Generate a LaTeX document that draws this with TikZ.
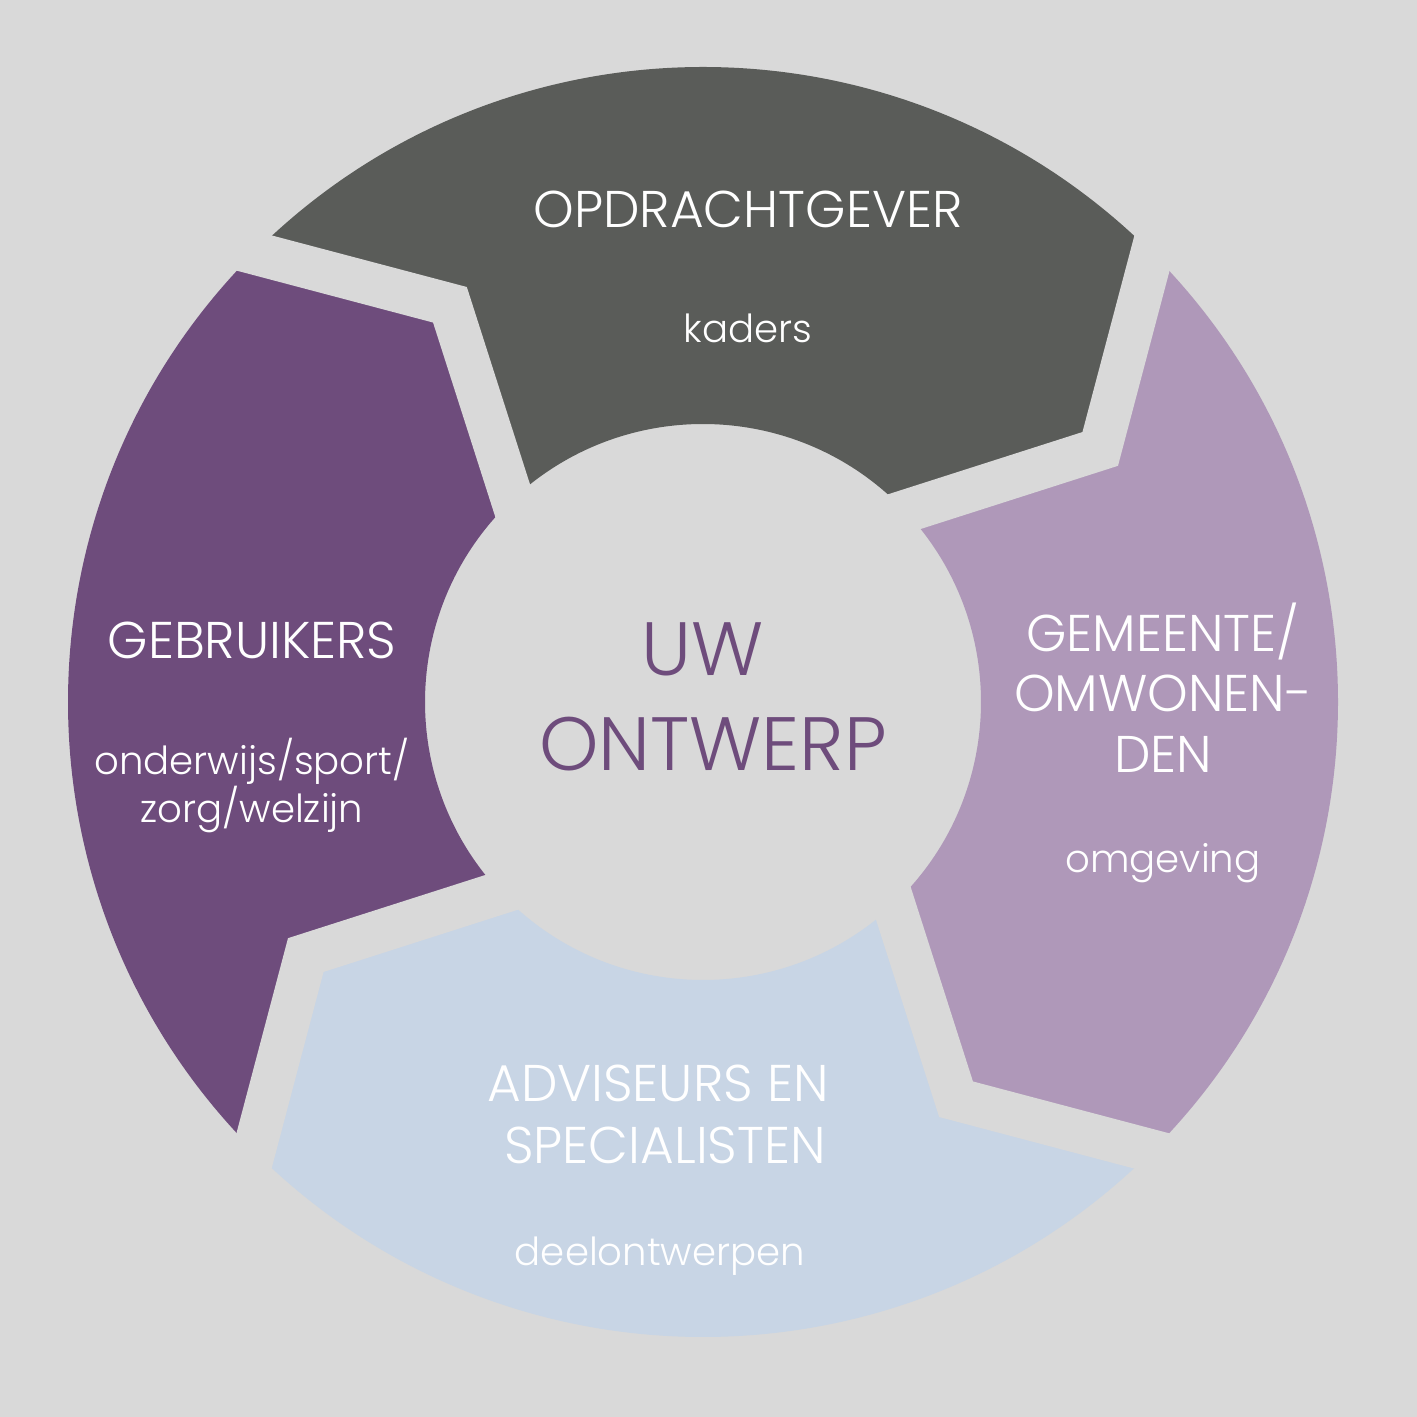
\documentclass[tikz,border=0pt]{standalone}
\usepackage{fontspec}
\setmainfont{Poppins}[UprightFont={* Light}]
\usetikzlibrary{calc}
\definecolor{bgc}{HTML}{D9D9D9}
\definecolor{topc}{HTML}{5A5C59}
\definecolor{rightc}{HTML}{AF98B9}
\definecolor{botc}{HTML}{C8D5E5}
\definecolor{leftc}{HTML}{6E4C7C}
\tikzset{
  gapline/.style={draw=bgc, line width=0.43cm, line join=miter, miter limit=10},
  lbl/.style={text=white, inner sep=0pt, anchor=base},
  head/.style={lbl, font=\fontsize{14.7}{17}\selectfont},
  sub/.style={lbl, font=\fontsize{11}{13}\selectfont},
  centre/.style={text=leftc, inner sep=0pt, anchor=base, font=\fontsize{21.5}{25}\selectfont},
}
\begin{document}
\begin{tikzpicture}
\fill[bgc] (0,0) rectangle (14.17,14.17);
\useasboundingbox (0,0) rectangle (14.17,14.17);
\coordinate (C) at (7.03,7.15);
\begin{scope}[shift={(C)}]
  \foreach \k/\col in {0/topc,1/rightc,2/botc,3/leftc}{
    \fill[\col, rotate=-90*\k] (135:6.35) arc[start angle=135, end angle=45, radius=6.35]
      -- (32.5:4.71) -- (43.3:2.78) arc[start angle=43.3, end angle=133.3, radius=2.78]
      -- (122.5:4.71) -- cycle;
  }
  \foreach \b in {45,-45,-135,135}{
    \coordinate (tip) at (\b-12.5:4.71);
    \coordinate (out) at (\b:6.35);
    \coordinate (inn) at (\b-1.7:2.78);
    \draw[gapline] ($(tip)!1.4!(out)$) -- (tip) -- ($(tip)!1.4!(inn)$);
  }
\end{scope}
% texts
\node[head] (t1) at (7.48,11.89) {OPDRACHTGEVER};
\node[sub] (t2) at (7.48,10.74) {kaders};
\node[head] (l1) at (2.52,7.58) {GEBRUIKERS};
\node[sub] (l2) at (2.52,6.42) {onderwijs/sport/};
\node[sub] (l3) at (2.52,5.94) {zorg/welzijn};
\node[centre] (c1) at (7.03,7.41) {UW};
\node[centre] (c2) at (7.13,6.46) {ONTWERP};
\node[head] (r1) at (11.63,7.65) {GEMEENTE/};
\node[head] (r2) at (11.63,7.05) {OMWONEN-};
\node[head] (r3) at (11.63,6.44) {DEN};
\node[sub] (r4) at (11.63,5.44) {omgeving};
\node[head] (b1) at (6.58,3.15) {ADVISEURS EN};
\node[head] (b2) at (6.65,2.53) {SPECIALISTEN};
\node[sub] (b3) at (6.60,1.51) {deelontwerpen};
\end{tikzpicture}
\end{document}
